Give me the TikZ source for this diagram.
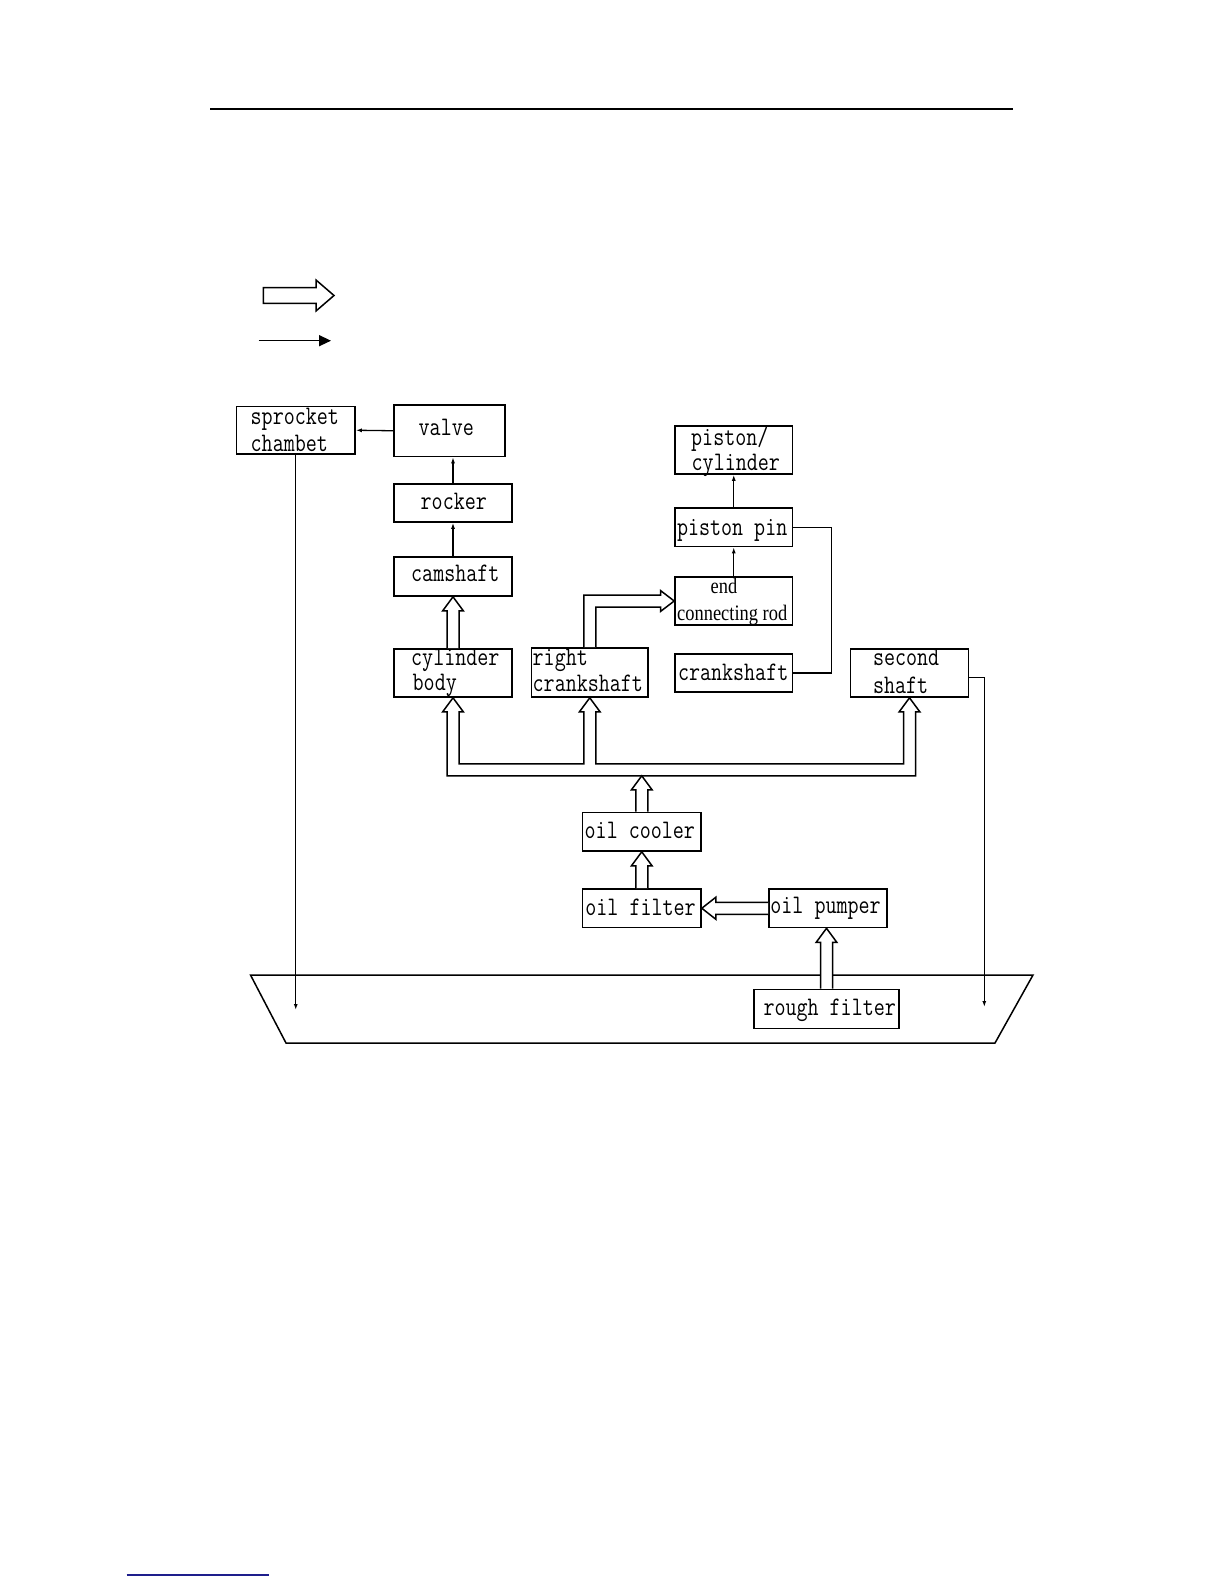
\documentclass[tikz,border=0pt]{standalone}
\usepackage{fontspec}
\usepackage{graphicx}
\usetikzlibrary{calc,arrows.meta}
\newfontfamily\seriff{Liberation Serif}
\newcommand\tall[1]{\scalebox{1}[1.25]{#1}}
\newcommand\talls[1]{\scalebox{1}[1.2]{#1}}
\definecolor{linkblue}{RGB}{30,30,140}
\tikzset{
  box/.style={draw, line width=1.6bp, inner sep=0pt},
  lbl/.style={anchor=base west, inner sep=0pt, font=\ttfamily\fontsize{21.5}{24}\selectfont\addfontfeatures{FakeBold=1.5}},
  lbls/.style={anchor=base west, inner sep=0pt, font=\seriff\fontsize{18.5}{20}\selectfont},
  thinarrow/.style={line width=1.3bp, -{Latex[length=6bp,width=4bp]}},
  thinline/.style={line width=1.3bp},
  hollow/.style={draw, line width=1.5bp, fill=white, line join=miter},
  headup/.style={insert path={-- ($(#1)+(-6,14)$) -- ($(#1)+(-10.3,14)$) -- (#1) -- ($(#1)+(10.3,14)$) -- ($(#1)+(6,14)$)}},
  headleft/.style={insert path={-- ($(#1)+(14,-6)$) -- ($(#1)+(14,-11)$) -- (#1) -- ($(#1)+(14,11)$) -- ($(#1)+(14,6)$)}},
  headright/.style={insert path={-- ($(#1)+(-13.5,-6)$) -- ($(#1)+(-13.5,-10.3)$) -- (#1) -- ($(#1)+(-13.5,10.3)$) -- ($(#1)+(-13.5,6)$)}},
}
\begin{document}
\begin{tikzpicture}[x=1bp,y=-1bp]
\useasboundingbox (0,0) rectangle (1224,1584);
\fill[white] (0,0) rectangle (1224,1584);

% top rule
\coordinate (ruleL) at (210,109);
\coordinate (ruleR) at (1013,109);
\draw[line width=2.4bp] (ruleL) -- (ruleR);

% legend
\draw[hollow] (263.3,287.7) -- (316,287.7) -- (316,280) -- (334,295.5) -- (316,311) -- (316,303.3) -- (263.3,303.3) -- cycle;
\coordinate (legA) at (258.5,340.7);
\coordinate (legB) at (331,340.7);
\draw[line width=1.5bp, -{Triangle[length=12bp,width=11bp]}] (legA) -- (legB);

% boxes
\node[box, minimum width=118.5bp, minimum height=47.5bp] (sprocket) at (295.75,430.25) {};
\node[box, minimum width=111bp, minimum height=51.5bp] (valve) at (449.5,430.75) {};
\node[box, minimum width=118bp, minimum height=38bp] (rocker) at (453,503) {};
\node[box, minimum width=118bp, minimum height=39bp] (camshaft) at (453,576.5) {};
\node[box, minimum width=118bp, minimum height=48bp] (cylbody) at (453,673) {};
\node[box, minimum width=116.5bp, minimum height=49bp] (rightcs) at (589.75,672.5) {};
\node[box, minimum width=117.5bp, minimum height=48bp] (pistcyl) at (733.75,450) {};
\node[box, minimum width=117.5bp, minimum height=38.5bp] (pistpin) at (733.75,527.25) {};
\node[box, minimum width=117.5bp, minimum height=48bp] (endrod) at (733.75,601) {};
\node[box, minimum width=117.5bp, minimum height=38bp] (crank) at (733.75,673) {};
\node[box, minimum width=118bp, minimum height=48bp] (second) at (909.5,673) {};
\node[box, minimum width=118.5bp, minimum height=38.5bp] (cooler) at (641.75,831.75) {};
\node[box, minimum width=118.5bp, minimum height=38.5bp] (filter) at (641.75,908.25) {};
\node[box, minimum width=118bp, minimum height=38.5bp] (pumper) at (828,908.25) {};

% tank
\draw[line width=1.5bp] (250.5,975) -- (1033,975) -- (995,1043) -- (286,1043) -- cycle;
\node[box, fill=white, minimum width=145bp, minimum height=39bp] (rough) at (826.5,1009) {};

% labels
\node[lbl] (t1) at (250.5,424) {\tall{sprocket}};
\node[lbl] (t2) at (250.5,451.5) {\tall{chambet}};
\node[lbl] (t3) at (418.5,435) {\tall{valve}};
\node[lbl] (t4) at (420.5,509.3) {\tall{rocker}};
\node[lbl] (t5) at (411,581.7) {\tall{camshaft}};
\node[lbl] (t6) at (411,665) {\tall{cylinder}};
\node[lbl] (t7) at (412.5,690) {\tall{body}};
\node[lbl] (t8) at (532.5,665) {\tall{right}};
\node[lbl] (t9) at (532.5,691.7) {\tall{crankshaft}};
\node[lbl] (t10) at (691,445) {\tall{piston/}};
\node[lbl] (t11) at (691.5,470.7) {\tall{cylinder}};
\node[lbl] (t12) at (676.8,535) {\tall{piston pin}};
\node[lbls] (t13) at (710.5,593.3) {\talls{end}};
\node[lbls] (t14) at (677,620) {\talls{connecting rod}};
\node[lbl] (t15) at (677.8,680) {\tall{crankshaft}};
\node[lbl] (t16) at (872.8,665.7) {\tall{second}};
\node[lbl] (t17) at (872.8,693.3) {\tall{shaft}};
\node[lbl] (t18) at (584.5,838.3) {\tall{oil cooler}};
\node[lbl] (t19) at (585.2,915) {\tall{oil filter}};
\node[lbl] (t20) at (770.2,913.3) {\tall{oil pumper}};
\node[lbl] (t21) at (763.3,1015) {\tall{rough filter}};

% thin arrows
\draw[thinarrow] (valve.west) -- (sprocket.east);
\draw[thinarrow] (rocker.north) -- (rocker.north |- valve.south);
\draw[thinarrow] (camshaft.north) -- (rocker.south);
\draw[thinarrow] (pistpin.north) -- (pistcyl.south);
\draw[thinarrow] (endrod.north) -- (pistpin.south);
\draw[thinline] (crank.east) -- ++(38.2,0) |- (pistpin.east);
\coordinate (lvlL) at (0,1010);
\coordinate (sprEnd) at (sprocket.south |- lvlL);
\draw[thinarrow] (sprocket.south) -- (sprEnd);
\coordinate (secStart) at ($(second.east)+(0,4.7)$);
\coordinate (secEnd) at (984.3,1007);
\draw[thinarrow] (secStart) -| (secEnd);

% hollow arrows
\draw[hollow] ($(cylbody.north)+(-6,0)$) [headup=camshaft.south] -- ($(cylbody.north)+(6,0)$);
\coordinate (busb) at ($(cylbody.south)+(-6,78)$);
\draw[hollow] (busb) [headup=cylbody.south] -- ($(cylbody.south)+(6,66)$)
  -- ($(rightcs.south)+(-6,66)$) [headup=rightcs.south] -- ($(rightcs.south)+(6,66)$)
  -- ($(second.south)+(-6,66)$) [headup=second.south] -- ($(second.south)+(6,78)$) -- cycle;
\coordinate (coolTip) at (cooler.north |- busb);
\draw[hollow] ($(cooler.north)+(-6,0)$) [headup=coolTip] -- ($(cooler.north)+(6,0)$);
\draw[hollow] ($(filter.north)+(-6,0)$) [headup=cooler.south] -- ($(filter.north)+(6,0)$);
\draw[hollow] ($(pumper.west)+(0,-6)$) [headleft=filter.east] -- ($(pumper.west)+(0,6)$);
\coordinate (roughTip) at (rough.north |- pumper.south);
\draw[hollow] ($(rough.north)+(-6,0)$) [headup=roughTip] -- ($(rough.north)+(6,0)$);
\coordinate (rcCorner) at (rightcs.north |- endrod.west);
\draw[hollow] ($(rightcs.north)+(-6,0)$) -- ($(rcCorner)+(-6,-6)$) [headright=endrod.west] -- ($(rcCorner)+(6,6)$) -- ($(rightcs.north)+(6,0)$);

% bottom link line
\coordinate (linkL) at (126.7,1575);
\coordinate (linkR) at (269,1575);
\draw[linkblue, line width=1.3bp] (linkL) -- (linkR);
\end{tikzpicture}
\end{document}
